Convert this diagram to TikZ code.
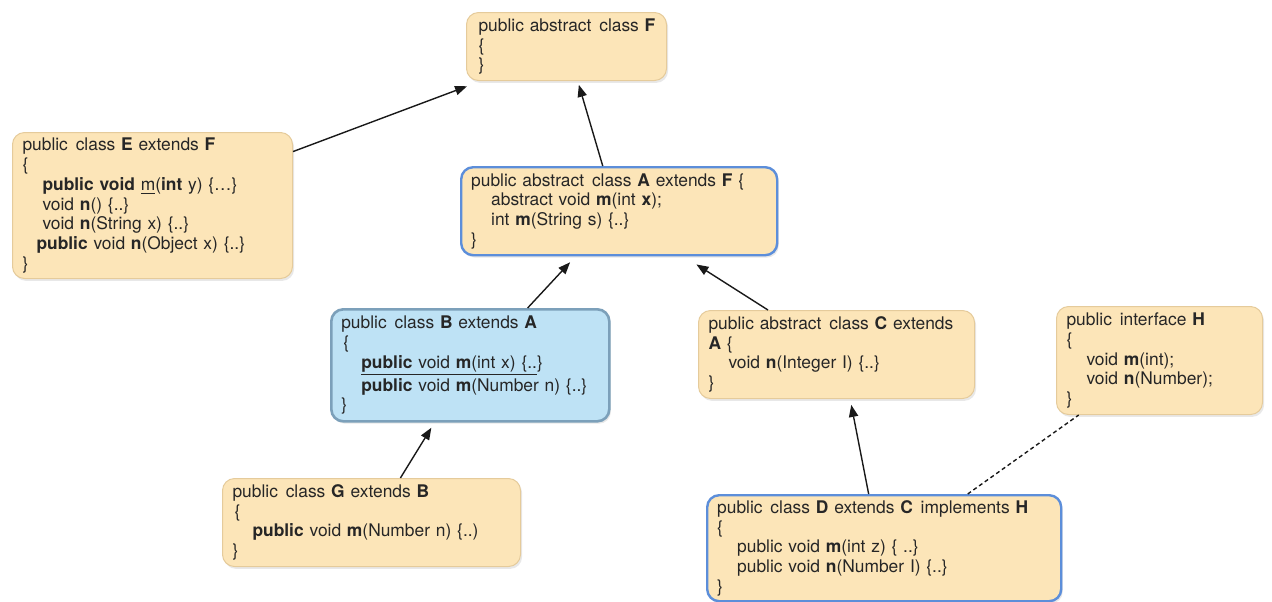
\documentclass[tikz,border=0pt]{standalone}
\usepackage{fontspec}
\setmainfont{TeX Gyre Heros}
\usetikzlibrary{shadows,arrows.meta}

\definecolor{boxfill}{RGB}{252,229,184}
\definecolor{boxline}{RGB}{229,203,155}
\definecolor{selline}{RGB}{92,142,218}
\definecolor{subfill}{RGB}{190,226,245}
\definecolor{subline}{RGB}{124,160,186}

% indentation of the class members
\newcommand{\ind}{\hspace*{10pt}}
% the wider gap after a modifier
\newcommand{\gap}{\hspace*{0.45em}}

\begin{document}
\begin{tikzpicture}[x=0.5pt,y=-0.5pt,
    cls/.style={draw=boxline, fill=boxfill, line width=0.5pt, rounded corners=6pt,
      anchor=north west, align=left, inner xsep=5pt, inner ysep=0pt,
      font=\fontsize{8.7}{9.85}\selectfont, text=black!85,
      drop shadow={opacity=0.18, shadow xshift=0.8pt, shadow yshift=-1.2pt}},
    sel/.style={draw=selline, line width=1.2pt},
    sub/.style={draw=subline, fill=subfill, line width=1.3pt},
    inh/.style={-{Triangle[length=6pt,width=4.6pt]}, line width=0.7pt, black!90},
    impl/.style={line width=0.7pt, dash pattern=on 2pt off 1.5pt, black!90}]
  \useasboundingbox (0,0) rectangle (1272,601);

  \node[cls, text width=92pt, inner xsep=4pt, minimum height=34pt] (F) at (466,12)
    {\hspace*{2pt}public abstract\gap class \textbf{F}\\ \hspace*{2pt}\{\\ \hspace*{2pt}\}};
  \node[cls, text width=130pt, minimum height=73pt] (E) at (12,132)
    {public\gap class \textbf{E} extends \textbf{F}\\
     \{\\
     \ind\textbf{public void} \underline{m}(\textbf{int} y) \{\ldots\}\\
     \ind void \textbf{n}() \{..\}\\
     \ind void \textbf{n}(String x) \{..\}\\
     \hspace*{7pt}\textbf{public} void \textbf{n}(Object x) \{..\}\\
     \}};
  \node[cls, sel, text width=148pt, minimum height=44pt] (A) at (460,166)
    {public abstract\gap class \textbf{A} extends \textbf{F} \{\\
     \ind abstract void \textbf{m}(int \textbf{x});\\
     \ind int \textbf{m}(String s) \{..\}\\
     \}};
  \node[cls, sub, text width=129pt, minimum height=56pt] (B) at (330,308)
    {public\gap class \textbf{B} extends \textbf{A}\\
     \hspace*{1pt}\{\\
     \ind\underline{\textbf{public} void \textbf{m}(int x) \{..}\}\\
     \ind\textbf{public} void \textbf{m}(Number n) \{..\}\\
     \}};
  \node[cls, text width=128pt, minimum height=44pt] (C) at (698,310)
    {public abstract\gap class \textbf{C} extends\\
     \textbf{A} \{\\
     \ind void \textbf{n}(Integer I) \{..\}\\
     \}};
  \node[cls, text width=93pt, minimum height=54pt] (H) at (1056,306)
    {public\gap interface \textbf{H}\\
     \{\\
     \ind void \textbf{m}(int);\\
     \ind void \textbf{n}(Number);\\
     \}};
  \node[cls, text width=139pt, minimum height=44pt] (G) at (222,478)
    {public\gap class \textbf{G} extends \textbf{B}\\
     \hspace*{1pt}\{\\
     \ind\textbf{public} void \textbf{m}(Number n) \{..)\\
     \}};
  \node[cls, sel, text width=167pt, minimum height=53pt] (D) at (706,494)
    {public\gap class \textbf{D} extends \textbf{C}\gap implements \textbf{H}\\
     \{\\
     \ind public void \textbf{m}(int z) \{ ..\}\\
     \ind public void \textbf{n}(Number I) \{..\}\\
     \}};

  \begin{scope}[inh]
    \draw[shorten >=7.5pt] (E.21) -- (F.202);
    \draw[shorten >=2pt] (A.110) -- (F.-72);
    \draw[shorten >=4pt] (B.45) -- (A.-134);
    \draw[shorten >=7.5pt] (C.147) -- (A.-35);
    \draw[shorten >=3pt] (G.57) -- (B.-122);
    \draw[shorten >=3pt] (D.106) -- (C.-73);
  \end{scope}
  \draw[impl] (D.33) -- (H.-146);
\end{tikzpicture}
\end{document}
